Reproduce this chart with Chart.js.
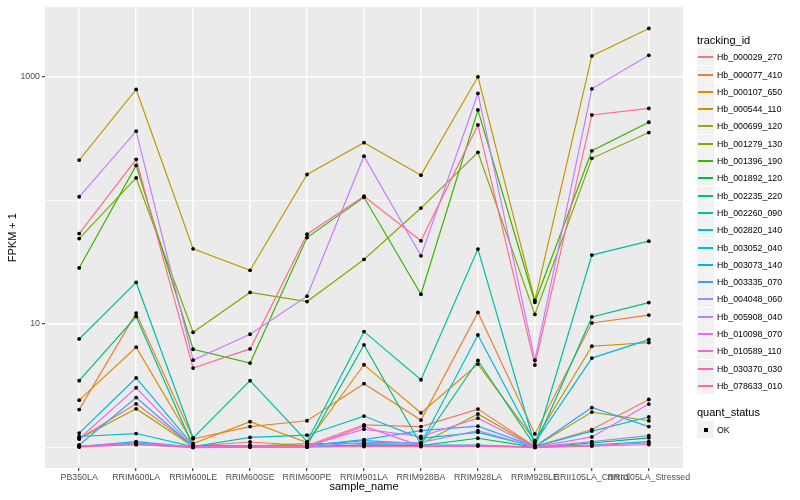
<!DOCTYPE html>
<html><head><meta charset="utf-8">
<script src="https://cdn.jsdelivr.net/npm/chart.js@4.4.1/dist/chart.umd.min.js"></script>
<style>
html,body{margin:0;padding:0;background:#fff;}
#wrap{position:relative;width:800px;height:500px;overflow:hidden;}
#c{position:absolute;left:0;top:0;}
.lg{position:absolute;font-family:"Liberation Sans",Arial,sans-serif;color:#000;white-space:nowrap;}
.lt{font-size:11px;line-height:13px;}
.row{position:absolute;left:697px;height:17px;display:flex;align-items:center;}
.key{position:relative;width:17px;height:17px;background:#F2F2F2;flex:none;}
.key .ln{position:absolute;left:1px;width:15px;top:8px;height:0;border-top:2px solid #000;}
.key .pt{position:absolute;left:7px;top:7px;width:4px;height:4px;background:#000;}
.lab{font-size:8.8px;margin-left:3px;}
</style>
</head><body>
<div id="wrap"><canvas id="c" width="800" height="500"></canvas><div id="legend"></div></div>
<script>
// ---- data (values are FPKM + 1) ----
const categories = ['PB350LA','RRIM600LA','RRIM600LE','RRIM600SE','RRIM600PE','RRIM901LA','RRIM928BA','RRIM928LA','RRIM928LE','RRII105LA_Control','RRII105LA_Stressed'];
const trackingIds = ['Hb_000029_270','Hb_000077_410','Hb_000107_650','Hb_000544_110','Hb_000699_120','Hb_001279_130','Hb_001396_190','Hb_001892_120','Hb_002235_220','Hb_002260_090','Hb_002820_140','Hb_003052_040','Hb_003073_140','Hb_003335_070','Hb_004048_060','Hb_005908_040','Hb_010098_070','Hb_010589_110','Hb_030370_030','Hb_078633_010'];
const Hb_000029_270 = [1.18, 2.26, 1.03, 1.11, 1.04, 1.53, 1.48, 2.05, 1.02, 1.40, 2.45];
const Hb_000077_410 = [2.03, 12.25, 1.18, 1.48, 1.65, 3.29, 1.67, 12.4, 1.29, 10.2, 11.8];
const Hb_000107_650 = [2.42, 6.49, 1.08, 1.62, 1.10, 4.68, 1.91, 4.74, 1.14, 6.61, 7.08];
const Hb_000544_110 = [212, 790, 40.6, 27.2, 162, 293, 160, 1000, 15.5, 1474, 2462];
const Hb_000699_120 = [1.18, 2.06, 1.02, 1.03, 1.08, 1.08, 1.07, 1.87, 1.02, 1.94, 1.65];
const Hb_001279_130 = [49.1, 152, 8.57, 18.0, 15.2, 33.3, 86.7, 245, 11.96, 219, 354];
const Hb_001396_190 = [28.4, 192, 6.25, 4.83, 50.0, 106, 17.4, 539, 15.0, 252, 429];
const Hb_001892_120 = [1.03, 1.06, 1.01, 1.02, 1.02, 1.05, 1.04, 1.19, 1.01, 1.09, 1.20];
const Hb_002235_220 = [3.48, 11.5, 1.02, 1.04, 1.04, 6.77, 1.06, 5.07, 1.03, 11.4, 14.9];
const Hb_002260_090 = [7.57, 21.7, 1.20, 3.48, 1.12, 8.68, 3.54, 40.4, 1.04, 36.1, 46.8];
const Hb_002820_140 = [1.23, 1.30, 1.02, 1.21, 1.26, 1.80, 1.19, 1.33, 1.02, 1.36, 1.77];
const Hb_003052_040 = [1.31, 3.66, 1.04, 1.04, 1.04, 1.14, 1.08, 8.15, 1.10, 5.30, 7.48];
const Hb_003073_140 = [1.02, 1.12, 1.01, 1.02, 1.02, 1.05, 1.05, 1.05, 1.01, 1.05, 1.12];
const Hb_003335_070 = [1.05, 2.54, 1.02, 1.04, 1.04, 1.16, 1.37, 1.49, 1.02, 2.11, 1.48];
const Hb_004048_060 = [1.03, 1.09, 1.01, 1.02, 1.02, 1.10, 1.10, 1.37, 1.01, 1.12, 1.25];
const Hb_005908_040 = [107, 363, 5.1, 8.26, 16.8, 228, 35.6, 733, 5.1, 800, 1493];
const Hb_010098_070 = [1.18, 3.05, 1.02, 1.03, 1.03, 1.41, 1.23, 1.73, 1.01, 1.22, 2.25];
const Hb_010589_110 = [1.02, 1.09, 1.01, 1.01, 1.01, 1.49, 1.03, 1.04, 1.01, 1.04, 1.09];
const Hb_030370_030 = [1.01, 1.06, 1.00, 1.01, 1.01, 1.02, 1.02, 1.03, 1.00, 1.03, 1.06];
const Hb_078633_010 = [53.9, 215, 4.4, 6.29, 53.3, 108, 47.1, 408, 4.65, 491, 555];
const seriesValues = [Hb_000029_270, Hb_000077_410, Hb_000107_650, Hb_000544_110, Hb_000699_120, Hb_001279_130, Hb_001396_190, Hb_001892_120, Hb_002235_220, Hb_002260_090, Hb_002820_140, Hb_003052_040, Hb_003073_140, Hb_003335_070, Hb_004048_060, Hb_005908_040, Hb_010098_070, Hb_010589_110, Hb_030370_030, Hb_078633_010];
const seriesColors = ['#F8766D','#EA8331','#D89000','#C09B00','#A3A500','#7CAE00','#39B600','#00BB4E','#00BF7D','#00C1A3','#00BFC4','#00BAE0','#00B0F6','#35A2FF','#9590FF','#C77CFF','#E76BF3','#FA62DB','#FF62BC','#FF6C90'];
const yTickValues = [1, 10, 100, 1000];
const yTickLabels = ['', '10', '', '1000'];
const quantStatus = ['OK'];

const FONT = '"Liberation Sans", Arial, sans-serif';
const N = seriesValues.length;

const datasets = seriesValues.map((vals, i) => ({
  label: trackingIds[i],
  data: vals.map((v, j) => ({x: j, y: v})),
  borderColor: seriesColors[i],
  backgroundColor: seriesColors[i],
  borderWidth: 1.2,
  pointRadius: 0,
  tension: 0,
  fill: false,
  order: N - i + 1
}));
datasets.push({
  label: 'points',
  data: seriesValues.flatMap(vals => vals.map((v, j) => ({x: j, y: v}))),
  showLine: false,
  pointRadius: 1.9,
  pointBackgroundColor: '#000',
  pointBorderWidth: 0,
  borderColor: '#000',
  order: 0
});

const panelBg = {
  id: 'panelBg',
  beforeDraw(chart) {
    const {ctx, chartArea: a} = chart;
    ctx.save();
    ctx.fillStyle = '#EBEBEB';
    ctx.fillRect(a.left, a.top, a.right - a.left, a.bottom - a.top);
    ctx.restore();
  }
};

new Chart(document.getElementById('c'), {
  type: 'line',
  data: {datasets},
  plugins: [panelBg],
  options: {
    responsive: false,
    animation: false,
    devicePixelRatio: 1,
    layout: {padding: {left: 0, top: 5, right: 117, bottom: 0}},
    plugins: {legend: {display: false}, tooltip: {enabled: false}},
    scales: {
      x: {
        type: 'linear',
        bounds: 'data',
        min: -0.6,
        max: categories.length - 1 + 0.6,
        afterBuildTicks: s => { s.ticks = categories.map((c, i) => ({value: i})); },
        afterFit: s => { s.height = 32; },
        ticks: {
          callback: v => categories[v],
          autoSkip: false, maxRotation: 0, minRotation: 0,
          color: '#4D4D4D', font: {family: FONT, size: 8.8}, padding: 1
        },
        grid: {color: '#FFFFFF', lineWidth: 1.4, tickColor: '#333333', tickLength: 3, tickWidth: 1.1},
        border: {display: false},
        title: {display: true, text: 'sample_name', color: '#000', font: {family: FONT, size: 11}, padding: {top: 0, bottom: 6.4}}
      },
      y: {
        type: 'logarithmic',
        bounds: 'data',
        min: 0.684,
        max: 3651,
        afterBuildTicks: s => { s.ticks = yTickValues.map(v => ({value: v})); },
        afterFit: s => { s.width = 45; },
        ticks: {
          callback: v => yTickLabels[yTickValues.indexOf(v)] || '',
          color: '#4D4D4D', font: {family: FONT, size: 8.8}, padding: 2
        },
        grid: {
          color: '#FFFFFF',
          lineWidth: ctx => (ctx.tick && yTickLabels[yTickValues.indexOf(ctx.tick.value)]) ? 1.4 : 0.7,
          tickColor: ctx => (ctx.tick && yTickLabels[yTickValues.indexOf(ctx.tick.value)]) ? '#333333' : 'rgba(0,0,0,0)',
          tickLength: 3, tickWidth: 1.1
        },
        border: {display: false},
        title: {display: true, text: 'FPKM + 1', color: '#000', font: {family: FONT, size: 11}, padding: {top: 6, bottom: 0}}
      }
    }
  }
});

// ---- legend (ggplot style) ----
const lg = document.getElementById('legend');
function addTitle(text, cy) {
  const d = document.createElement('div');
  d.className = 'lg lt';
  d.style.left = '697px';
  d.style.top = Math.round(cy - 6.5) + 'px';
  d.textContent = text;
  lg.appendChild(d);
}
function addRow(label, cy, color, isPoint) {
  const r = document.createElement('div');
  r.className = 'lg row';
  r.style.top = Math.round(cy - 8.5) + 'px';
  const k = document.createElement('div');
  k.className = 'key';
  const m = document.createElement('div');
  m.className = isPoint ? 'pt' : 'ln';
  if (!isPoint) m.style.borderTopColor = color;
  k.appendChild(m);
  const t = document.createElement('span');
  t.className = 'lab';
  t.textContent = label;
  r.appendChild(k); r.appendChild(t);
  lg.appendChild(r);
}
addTitle('tracking_id', 40.5);
trackingIds.forEach((id, i) => addRow(id, 56.7 + i * 17.3, seriesColors[i], false));
addTitle('quant_status', 412.3);
quantStatus.forEach((q, i) => addRow(q, 429 + i * 17.3, '#000', true));
</script>
</body></html>
